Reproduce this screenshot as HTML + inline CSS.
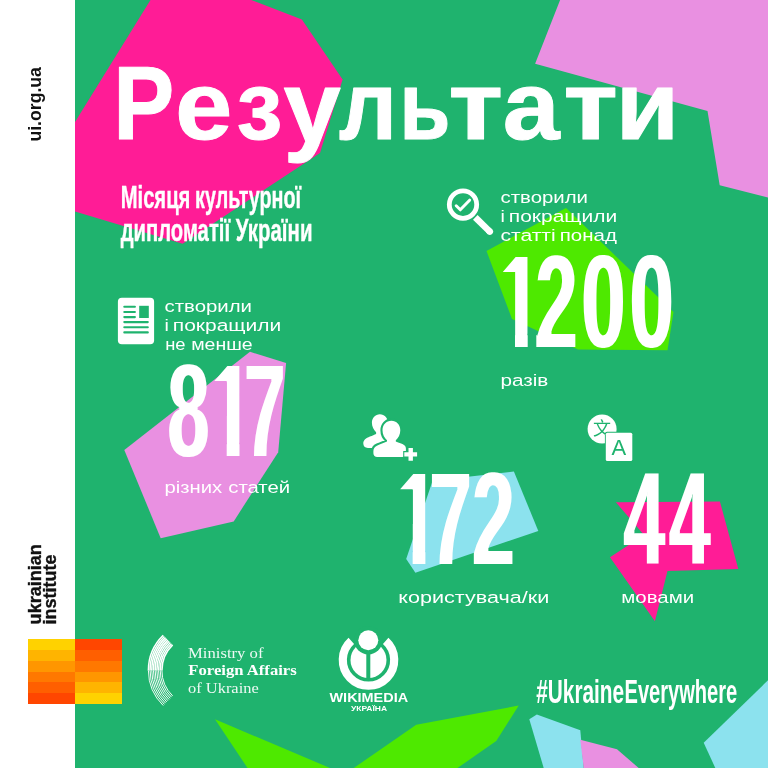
<!DOCTYPE html>
<html lang="uk">
<head>
<meta charset="utf-8">
<title>Результати Місяця культурної дипломатії України</title>
<style>
html,body{margin:0;padding:0;width:768px;height:768px;overflow:hidden;background:#1fb36e;}
svg{display:block;position:absolute;left:0;top:0;}
text{font-family:"Liberation Sans",sans-serif;fill:#fff;}
.b{font-weight:bold;}
.cap{font-weight:normal;}
.serif{font-family:"Liberation Serif",serif;}
.dark{fill:#111;}
</style>
</head>
<body>
<svg width="768" height="768" viewBox="0 0 768 768">
<rect x="0" y="0" width="768" height="768" fill="#1fb36e"/>
<g id="shapes">
<polygon fill="#ff1c96" points="150.5,0 251.2,0 301.9,19.5 342.6,79.6 320,153 182.6,243.7 75,211.6 75,122"/>
<polygon fill="#e990e1" points="560.1,0 768,0 768,197.5 719.7,185.3 707.5,111.1 535.1,63.75"/>
<polygon fill="#4ee900" points="486.5,251 566,208 673.5,312 667.5,350.3 578,349.5 512,319"/>
<polygon fill="#e990e1" points="250,351.8 286.1,363 278.2,452.2 233.7,521.4 160.7,538.3 124.3,449.9"/>
<polygon fill="#8ce2ee" points="432.6,480.7 513.9,471.5 538.3,531 415.4,572.7 406.2,559.1"/>
<polygon fill="#ff1c96" points="615.9,502.3 719.9,501.4 738.3,568.9 667.5,571.1 654.9,621.3 610,557.2 644,535"/>
<polygon fill="#4ee900" points="215,719.3 330,768 247.5,768"/>
<polygon fill="#4ee900" points="353.75,768 416.25,724.75 518.75,705.5 496.25,741 457.5,768"/>
<polygon fill="#8ce2ee" points="536.8,714.4 580.3,730.3 583.7,768 543.7,768 529.3,719.3"/>
<polygon fill="#e990e1" points="580.3,739.7 617,749.3 638.7,768 583.7,768"/>
<polygon fill="#8ce2ee" points="768,680.3 703.7,742.7 715.3,768 768,768"/>
</g>
<rect x="0" y="0" width="75" height="768" fill="#fff"/>
<text id="title" aria-label="Результати" class="b" font-size="96" stroke="#fff" stroke-width="1.0" stroke-linejoin="round"><tspan x="113.16" y="139.1" textLength="60.97" lengthAdjust="spacingAndGlyphs" font-size="103">Р</tspan><tspan x="175.2" y="139.1" textLength="57.01" lengthAdjust="spacingAndGlyphs">е</tspan><tspan x="236.49" y="139.1" textLength="45.98" lengthAdjust="spacingAndGlyphs">з</tspan><tspan x="283.47" y="142.2" textLength="57.27" lengthAdjust="spacingAndGlyphs" font-size="102">у</tspan><tspan x="338.99" y="139.1" textLength="57.92" lengthAdjust="spacingAndGlyphs">л</tspan><tspan x="399.36" y="139.1" textLength="51.25" lengthAdjust="spacingAndGlyphs">ь</tspan><tspan x="448.46" y="139.1" textLength="54.56" lengthAdjust="spacingAndGlyphs">т</tspan><tspan x="502.73" y="139.1" textLength="56.88" lengthAdjust="spacingAndGlyphs">а</tspan><tspan x="563.47" y="139.1" textLength="54.33" lengthAdjust="spacingAndGlyphs">т</tspan><tspan x="615.78" y="139.1" textLength="63.42" lengthAdjust="spacingAndGlyphs">и</tspan></text>
<text aria-label="Місяця культурної" class="b" y="208.3" font-size="32" stroke="#fff" stroke-width="0.4"><tspan x="120.68" textLength="75.33" lengthAdjust="spacingAndGlyphs">Місяця </tspan><tspan x="195.11" textLength="105.98" lengthAdjust="spacingAndGlyphs">культурної</tspan></text>
<text aria-label="дипломатії України" class="b" y="240.6" font-size="32" stroke="#fff" stroke-width="0.4"><tspan x="120.64" textLength="115.14" lengthAdjust="spacingAndGlyphs">дипломатії </tspan><tspan x="235.84" textLength="76.63" lengthAdjust="spacingAndGlyphs">України</tspan></text>
<text class="cap" y="203.2" font-size="17.4"><tspan x="500.52" textLength="87.44" lengthAdjust="spacingAndGlyphs">створили</tspan></text>
<text aria-label="і покращили" class="cap" y="222.2" font-size="17.4"><tspan x="500.48" textLength="9.86" lengthAdjust="spacingAndGlyphs">і </tspan><tspan x="508.89" textLength="108.37" lengthAdjust="spacingAndGlyphs">покращили</tspan></text>
<text aria-label="статті понад" class="cap" y="241" font-size="17.4"><tspan x="500.49" textLength="61.06" lengthAdjust="spacingAndGlyphs">статті </tspan><tspan x="559.73" textLength="57.11" lengthAdjust="spacingAndGlyphs">понад</tspan></text>
<text class="cap" y="385.7" font-size="17.4"><tspan x="500.51" textLength="47.87" lengthAdjust="spacingAndGlyphs">разів</tspan></text>
<text class="cap" y="311.5" font-size="17.4"><tspan x="164.52" textLength="87.44" lengthAdjust="spacingAndGlyphs">створили</tspan></text>
<text aria-label="і покращили" class="cap" y="330.6" font-size="17.4"><tspan x="164.48" textLength="9.86" lengthAdjust="spacingAndGlyphs">і </tspan><tspan x="172.89" textLength="108.37" lengthAdjust="spacingAndGlyphs">покращили</tspan></text>
<text aria-label="не менше" class="cap" y="350" font-size="17.4"><tspan x="165.18" textLength="25.45" lengthAdjust="spacingAndGlyphs">не </tspan><tspan x="191.2" textLength="61.49" lengthAdjust="spacingAndGlyphs">менше</tspan></text>
<text aria-label="різних статей" class="cap" y="493.4" font-size="17.4"><tspan x="164.54" textLength="63.33" lengthAdjust="spacingAndGlyphs">різних </tspan><tspan x="228.22" textLength="61.86" lengthAdjust="spacingAndGlyphs">статей</tspan></text>
<text class="cap" y="602.6" font-size="17.4"><tspan x="398.25" textLength="150.97" lengthAdjust="spacingAndGlyphs">користувача/ки</tspan></text>
<text class="cap" y="602.8" font-size="17.4"><tspan x="621.33" textLength="72.78" lengthAdjust="spacingAndGlyphs">мовами</tspan></text>
<clipPath id="nofoot"><path clip-rule="evenodd" d="M0 0H768V768H0Z M498.76 333.67H515.02V350.1H498.76Z M501 272.1H515.02V307.01H501Z M527.7 333.67H536.3V350.1H527.7Z M210.23 442.67H226.69V459.1H210.23Z M212.5 381.1H226.69V416.01H212.5Z M239.5 442.67H253.29V459.1H239.5Z M396.24 550.77H412.63V567.2H396.24Z M398.5 489.2H412.63V524.11H398.5Z M425.4 550.77H438.68V567.2H425.4Z"/></clipPath>
<filter id="heavy" x="0" y="0" width="768" height="768" filterUnits="userSpaceOnUse" color-interpolation-filters="sRGB"><feMorphology operator="dilate" radius="1 0" result="d"/><feMorphology in="d" operator="erode" radius="0 1"/></filter>
<g clip-path="url(#nofoot)"><g filter="url(#heavy)">
<text aria-label="1200" class="b" y="348.1" font-size="133.62"><tspan x="498.77" textLength="41.53" lengthAdjust="spacingAndGlyphs">1</tspan><tspan x="535.47" textLength="41.83" lengthAdjust="spacingAndGlyphs">2</tspan><tspan x="581.45" textLength="43.79" lengthAdjust="spacingAndGlyphs">0</tspan><tspan x="629.65" textLength="43.79" lengthAdjust="spacingAndGlyphs">0</tspan></text>
<text aria-label="817" class="b" y="457.1" font-size="133.62"><tspan x="167.66" textLength="41.46" lengthAdjust="spacingAndGlyphs">8</tspan><tspan x="210.2" textLength="42.08" lengthAdjust="spacingAndGlyphs">1</tspan><tspan x="244.52" textLength="40.55" lengthAdjust="spacingAndGlyphs">7</tspan></text>
<text aria-label="172" class="b" y="565.2" font-size="133.62"><tspan x="396.23" textLength="41.9" lengthAdjust="spacingAndGlyphs">1</tspan><tspan x="429.63" textLength="41.62" lengthAdjust="spacingAndGlyphs">7</tspan><tspan x="472.25" textLength="42.18" lengthAdjust="spacingAndGlyphs">2</tspan></text>
<text aria-label="44" class="b" y="565.2" font-size="133.62"><tspan x="623.8" textLength="40.96" lengthAdjust="spacingAndGlyphs">4</tspan><tspan x="669.2" textLength="40.86" lengthAdjust="spacingAndGlyphs">4</tspan></text>
</g></g>
<text aria-label="#UkraineEverywhere" class="b" y="702.7" font-size="32.5"><tspan x="536.28" textLength="87.79" lengthAdjust="spacingAndGlyphs">#Ukraine</tspan><tspan x="624.51" textLength="112.75" lengthAdjust="spacingAndGlyphs">Everywhere</tspan></text>
<text class="b dark" transform="translate(41,141.56) rotate(-90) scale(0.9291,1)" font-size="19">ui.org.ua</text>
<text class="b dark" transform="translate(41,624.39) rotate(-90) scale(0.9500,1)" font-size="19" stroke="#111" stroke-width="0.35">ukrainian</text>
<text class="b dark" transform="translate(56.25,624.38) rotate(-90) scale(0.9465,1)" font-size="19" stroke="#111" stroke-width="0.35">institute</text>
<g id="ui-logo" shape-rendering="crispEdges">
<rect x="27.9" y="638.9" width="47.1" height="11.17" fill="#ffd200"/>
<rect x="75" y="638.9" width="47" height="11.17" fill="#ff4600"/>
<rect x="27.9" y="649.77" width="47.1" height="11.17" fill="#ffb400"/>
<rect x="75" y="649.77" width="47" height="11.17" fill="#ff5f00"/>
<rect x="27.9" y="660.63" width="47.1" height="11.17" fill="#ff9600"/>
<rect x="75" y="660.63" width="47" height="11.17" fill="#ff7800"/>
<rect x="27.9" y="671.5" width="47.1" height="11.17" fill="#ff7800"/>
<rect x="75" y="671.5" width="47" height="11.17" fill="#ff9600"/>
<rect x="27.9" y="682.37" width="47.1" height="11.17" fill="#ff5f00"/>
<rect x="75" y="682.37" width="47" height="11.17" fill="#ffb400"/>
<rect x="27.9" y="693.23" width="47.1" height="11.17" fill="#ff4600"/>
<rect x="75" y="693.23" width="47" height="11.17" fill="#ffd200"/>
</g>
<g id="mfa" fill="none" stroke="#fff">
<path stroke-width="1.55" d="M172.64 644.92A35.6 35.6 0 0 0 161.9 670.4"/>
<path stroke-width="0.95" d="M161.9 670.4A35.6 35.6 0 0 0 172.64 695.88"/>
<path stroke-width="1.55" d="M171.46 643.71A37.29 37.29 0 0 0 160.21 670.4"/>
<path stroke-width="0.95" d="M160.21 670.4A37.29 37.29 0 0 0 171.46 697.09"/>
<path stroke-width="1.55" d="M170.28 642.51A38.98 38.98 0 0 0 158.53 670.4"/>
<path stroke-width="0.95" d="M158.53 670.4A38.98 38.98 0 0 0 170.28 698.29"/>
<path stroke-width="1.55" d="M169.1 641.3A40.66 40.66 0 0 0 156.84 670.4"/>
<path stroke-width="0.95" d="M156.84 670.4A40.66 40.66 0 0 0 169.1 699.5"/>
<path stroke-width="1.55" d="M167.92 640.09A42.35 42.35 0 0 0 155.15 670.4"/>
<path stroke-width="0.95" d="M155.15 670.4A42.35 42.35 0 0 0 167.92 700.71"/>
<path stroke-width="1.55" d="M166.74 638.88A44.04 44.04 0 0 0 153.46 670.4"/>
<path stroke-width="0.95" d="M153.46 670.4A44.04 44.04 0 0 0 166.74 701.92"/>
<path stroke-width="1.55" d="M165.56 637.67A45.73 45.73 0 0 0 151.78 670.4"/>
<path stroke-width="0.95" d="M151.78 670.4A45.73 45.73 0 0 0 165.56 703.13"/>
<path stroke-width="1.55" d="M164.39 636.47A47.41 47.41 0 0 0 150.09 670.4"/>
<path stroke-width="0.95" d="M150.09 670.4A47.41 47.41 0 0 0 164.39 704.33"/>
<path stroke-width="1.55" d="M163.21 635.26A49.1 49.1 0 0 0 148.4 670.4"/>
<path stroke-width="0.95" d="M148.4 670.4A49.1 49.1 0 0 0 163.21 705.54"/>
</g>
<text class="serif" transform="translate(188.04,657.6) scale(1.1111,1)" font-size="15" fill-opacity="0.92">Ministry of</text>
<text class="serif b" transform="translate(188.32,675.1) scale(1.1113,1)" font-size="15">Foreign Affairs</text>
<text class="serif" transform="translate(188.05,693.3) scale(1.0945,1)" font-size="15" fill-opacity="0.92">of Ukraine</text>
<g id="wikimedia">
<path fill="none" stroke="#fff" stroke-width="8.2" d="M351.3 640.9A25.7 25.7 0 1 0 385.7 640.9"/>
<circle cx="368.5" cy="660" r="18" fill="#fff"/>
<circle cx="368.3" cy="640.3" r="14.2" fill="#1fb36e"/>
<rect x="366.3" y="650" width="4" height="28.3" fill="#1fb36e"/>
<circle cx="368.3" cy="640.3" r="10" fill="#fff"/>
</g>
<text class="b" transform="translate(329.5,702.4) scale(1.1333,1)" font-size="12.75">WIKIMEDIA</text>
<text class="b" transform="translate(351,710.5) scale(1.1307,1)" font-size="7.5">УКРАЇНА</text>
<g id="icon-doc">
<rect x="117.9" y="297.7" width="36.2" height="46.6" rx="4" ry="4" fill="#fff"/>
<g stroke="#1fb36e" stroke-width="2.1" stroke-linecap="round">
<line x1="124.3" y1="306.8" x2="134.9" y2="306.8"/>
<line x1="124.3" y1="312.0" x2="134.9" y2="312.0"/>
<line x1="124.3" y1="317.1" x2="134.9" y2="317.1"/>
<line x1="124.3" y1="322.1" x2="147.8" y2="322.1"/>
<line x1="124.3" y1="327.3" x2="147.8" y2="327.3"/>
<line x1="124.3" y1="332.4" x2="147.8" y2="332.4"/>
</g>
<rect x="139.2" y="305.8" width="9.6" height="12.2" fill="#1fb36e"/>
</g>
<g id="icon-search" fill="none" stroke="#fff">
<circle cx="463" cy="204.6" r="13.7" stroke-width="4.8"/>
<path d="M475.3 217.4L490.2 232" stroke-width="6.5" stroke-linecap="butt"/>
<path d="M489.2 231l0.6 0.6" stroke-width="6.5" stroke-linecap="round"/>
<path d="M456.2 205.8L460.3 209.8L469.6 200.2" stroke-width="3" stroke-linecap="round" stroke-linejoin="round"/>
</g>
<g id="icon-users">
<path fill="#fff" d="M379.9 414.2c4.6 0 8 3.7 8 8.6c0 3.6-1.7 7.2-4 9.4v1.6c3.5 1.2 7 2.6 9 4.2l-8 10h-17c-3 0-4.6-1.8-4.6-4.4c0-3.4 2.6-5.3 6.6-7c2.400-1 4.600-1.900 6.200-2.700v-1.700c-2.400-2.200-4.200-5.800-4.200-9.400c0-4.900 3.400-8.600 8-8.600z"/>
<path fill="#fff" stroke="#1fb36e" stroke-width="4.2" paint-order="stroke" stroke-linejoin="round" d="M391.400 420.700c5.100 0 8.900 4.100 8.900 9.500c0 3.900-1.900 7.800-4.500 10.100v1.300c3.200 1.200 6.400 2.300 8.200 3.300c1.300 0.700 1.900 2 1.900 3.600v4.700c0 2-1.500 3.700-3.700 3.700h-25c-2.200 0-3.800-1.600-3.800-3.700v-2.200c0-2.500 1.400-4.300 4-5.500c2.600-1.200 6.500-2.600 9.600-3.900v-1.300c-2.600-2.300-4.500-6.200-4.500-10.100c0-5.400 3.800-9.500 8.900-9.500z"/>
<path fill="#fff" stroke="#1fb36e" stroke-width="2.2" paint-order="stroke" d="M408.500 448h4.400v4.200h4.200v4.400h-4.200v4.200h-4.400v-4.200h-4.200v-4.400h4.200z"/>
</g>
<g id="icon-translate">
<circle cx="602.1" cy="429" r="14.5" fill="#fff"/>
<text x="593.1" y="435.3" font-size="18" style="font-family:'Liberation Sans','Noto Sans CJK SC',sans-serif;fill:#1fb36e">文</text>
<rect x="604.9" y="431.8" width="28.2" height="30.1" rx="2.2" fill="#1fb36e"/>
<rect x="605.8" y="432.7" width="26.500" height="28.4" rx="1.6" fill="#fff"/>
<text x="611.6" y="454.6" font-size="22" style="fill:#1fb36e">A</text>
</g>
</svg>
</body>
</html>
